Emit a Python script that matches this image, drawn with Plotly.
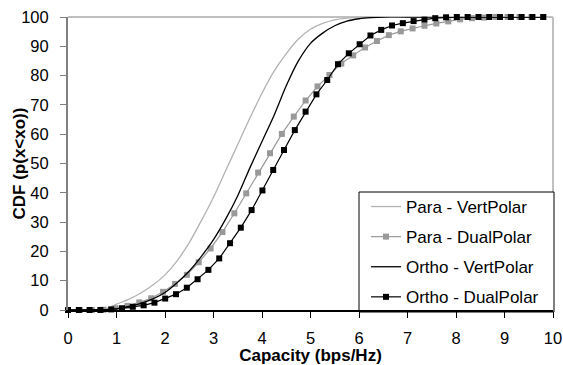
import plotly.graph_objects as go

# ---- data ----
# Para - VertPolar (no markers)
pv_x = [0, 0.6, 0.8, 1.0, 1.25, 1.5, 1.75, 2.0, 2.25, 2.5, 2.75, 3.0, 3.25, 3.5, 3.75,
        4.0, 4.25, 4.5, 4.75, 5.0, 5.25, 5.5, 5.75, 6.0, 6.5, 7.0, 8.0, 9.0, 9.8]
pv_y = [0, 0, 0.5, 2.0, 3.6, 5.8, 8.5, 12.0, 16.8, 23.0, 30.5, 38.5, 47.5, 56.5, 65.5,
        74.0, 81.5, 87.5, 92.5, 95.8, 97.8, 99.0, 99.6, 99.9, 100, 100, 100, 100, 100]

# Para - DualPolar (markers, step ~0.245)
pd_x = [round(0.245 * j, 3) for j in range(41)]
pd_y = [0, 0, 0, 0.1, 0.6, 1.4, 2.6, 4.0, 6.2, 8.9, 12.0, 16.3, 21.0, 26.6, 33.0, 39.8,
        46.9, 53.5, 60.1, 66.0, 71.5, 76.3, 80.2, 84.1, 86.9, 89.6, 91.8, 93.8, 95.1,
        96.1, 97.0, 97.8, 98.5, 99.2, 99.6, 99.8, 100, 100, 100, 100, 100]

# Ortho - VertPolar (no markers)
ov_x = [0, 0.8, 1.0, 1.25, 1.5, 1.75, 2.0, 2.25, 2.5, 2.75, 3.0, 3.25, 3.5, 3.75, 4.0,
        4.25, 4.5, 4.75, 5.0, 5.25, 5.5, 5.75, 6.0, 6.25, 6.5, 7.0, 8.0, 9.0, 9.8]
ov_y = [0, 0, 0.4, 1.2, 2.3, 3.8, 6.0, 9.3, 13.3, 18.3, 24.0, 31.0, 39.0, 48.5, 57.5,
        66.5, 76.5, 85.0, 91.0, 94.5, 97.0, 98.6, 99.4, 99.8, 100, 100, 100, 100, 100]

# Ortho - DualPolar (markers, step ~0.2227)
od_x = [round(0.2227 * i, 3) for i in range(45)]
od_y = [0, 0, 0, 0, 0.2, 0.6, 1.1, 1.6, 2.5, 3.9, 5.4, 7.6, 10.5, 13.7, 17.6, 22.8,
        28.1, 34.1, 40.8, 47.8, 54.6, 61.4, 67.7, 73.6, 78.5, 83.9, 87.6, 90.7, 93.7,
        95.6, 97.1, 97.9, 98.6, 99.1, 99.6, 99.9, 100, 100, 100, 100, 100, 100, 100,
        100, 100]

x_ticks = list(range(0, 11))
y_ticks = list(range(0, 101, 10))

FONT = "Liberation Sans, Arial, sans-serif"

fig = go.Figure()
fig.add_trace(go.Scatter(x=pv_x, y=pv_y, mode="lines", name="Para - VertPolar",
                         line=dict(color="#b2b2b2", width=1.3, shape="spline", smoothing=0.8),
                         cliponaxis=False, legendgroup="a"))
fig.add_trace(go.Scatter(x=pd_x, y=pd_y, mode="lines+markers", name="Para - DualPolar",
                         line=dict(color="#999999", width=1.2),
                         marker=dict(symbol="square", size=6, color="#999999"),
                         cliponaxis=False, legendgroup="b"))
fig.add_trace(go.Scatter(x=ov_x, y=ov_y, mode="lines", name="Ortho - VertPolar",
                         line=dict(color="#000000", width=1.3, shape="spline", smoothing=0.8),
                         cliponaxis=False, legendgroup="c"))
fig.add_trace(go.Scatter(x=od_x, y=od_y, mode="lines+markers", name="Ortho - DualPolar",
                         line=dict(color="#000000", width=1.2),
                         marker=dict(symbol="square", size=6, color="#000000"),
                         cliponaxis=False, legendgroup="d"))

fig.update_layout(
    width=563, height=365,
    margin=dict(l=68, r=10, t=17, b=55, autoexpand=False),
    paper_bgcolor="white", plot_bgcolor="white",
    font=dict(family=FONT, size=16.5, color="black"),
    showlegend=True,
    legend=dict(x=0.6144, y=0.413, xanchor="left", yanchor="top",
                bgcolor="rgba(0,0,0,0)", borderwidth=0,
                font=dict(size=17), tracegroupgap=5, itemwidth=30),
    xaxis=dict(range=[0, 10], tickvals=x_ticks, showgrid=False, zeroline=False,
               showline=True, linecolor="black", linewidth=1.5, automargin=False,
               ticks="outside", ticklen=6, tickcolor="black", tickwidth=1,
               ticklabelstandoff=6,
               title=dict(text="<b>Capacity (bps/Hz)</b>", font=dict(size=17), standoff=4)),
    yaxis=dict(range=[0, 100], tickvals=y_ticks, showgrid=False, zeroline=False,
               showline=True, linecolor="#808080", linewidth=2, automargin=False,
               ticks="outside", ticklen=6, tickcolor="#808080", tickwidth=1,
               ticklabelstandoff=8),
)
fig.add_annotation(text="<b>CDF (p(x<xo))</b>", xref="paper", yref="paper",
                   x=-0.099, y=0.5, xanchor="center", yanchor="middle",
                   textangle=-90, showarrow=False, font=dict(size=17))
# plot area top / right border
fig.add_shape(type="line", xref="paper", yref="paper", x0=0, x1=1, y0=1, y1=1,
              line=dict(color="#808080", width=1), layer="below")
fig.add_shape(type="line", xref="paper", yref="paper", x0=1, x1=1, y0=0, y1=1,
              line=dict(color="#c0c0c0", width=2), layer="below")
# legend frame
fig.add_shape(type="rect", xref="paper", yref="paper",
              x0=(359 - 68) / 485, x1=(554 - 68) / 485,
              y0=(310 - 312) / 293, y1=(310 - 192) / 293,
              line=dict(color="black", width=1), fillcolor="white", layer="below")

fig.write_html("out.html", config={"displayModeBar": False},
               post_script="document.body.style.margin='0';")
